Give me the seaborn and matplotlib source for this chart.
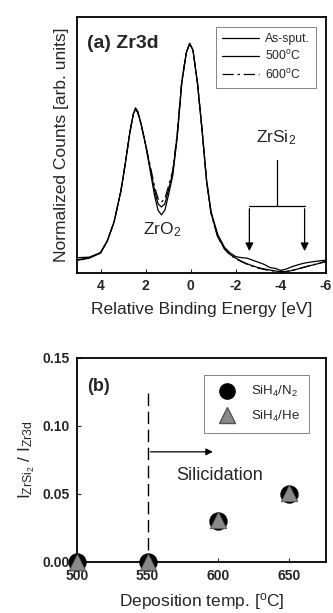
import matplotlib
matplotlib.use("Agg")
import matplotlib.pyplot as plt
import pandas as pd
import seaborn as sns
from matplotlib.lines import Line2D

# (a) Zr3d spectra
energy = [5.0, 4.5, 4.0, 3.7, 3.4, 3.1, 2.9, 2.7, 2.55, 2.45, 2.35, 2.2, 2.0, 1.8,
          1.6, 1.45, 1.3, 1.15, 1.0, 0.8, 0.6, 0.4, 0.2, 0.05, -0.1, -0.3, -0.5,
          -0.7, -0.9, -1.2, -1.5, -1.75, -2.0, -2.25, -2.5, -2.75, -3.0, -3.25,
          -3.5, -3.75, -4.0, -4.25, -4.5, -4.75, -5.0, -5.25, -5.5, -5.75, -6.0]
as_sput = [0.050, 0.058, 0.078, 0.125, 0.20, 0.32, 0.43, 0.55, 0.62, 0.643, 0.63,
           0.58, 0.50, 0.40, 0.30, 0.245, 0.227, 0.245, 0.30, 0.38, 0.53, 0.74,
           0.86, 0.897, 0.87, 0.74, 0.56, 0.36, 0.234, 0.14, 0.095, 0.072, 0.058,
           0.046, 0.036, 0.028, 0.021, 0.016, 0.012, 0.008, 0.005, 0.006, 0.010,
           0.016, 0.022, 0.028, 0.033, 0.039, 0.044]
t500 = [0.060, 0.062, 0.080, 0.127, 0.20, 0.32, 0.43, 0.55, 0.62, 0.645, 0.63,
        0.58, 0.50, 0.41, 0.32, 0.27, 0.258, 0.27, 0.32, 0.39, 0.54, 0.745,
        0.86, 0.897, 0.87, 0.74, 0.56, 0.365, 0.24, 0.15, 0.10, 0.078, 0.064,
        0.060, 0.058, 0.050, 0.042, 0.034, 0.022, 0.018, 0.010, 0.016, 0.025,
        0.032, 0.038, 0.042, 0.045, 0.048, 0.050]
t600 = [0.052, 0.060, 0.079, 0.126, 0.20, 0.32, 0.43, 0.55, 0.62, 0.640, 0.625,
        0.58, 0.50, 0.42, 0.335, 0.29, 0.277, 0.29, 0.335, 0.40, 0.545, 0.75,
        0.86, 0.895, 0.87, 0.74, 0.56, 0.36, 0.232, 0.14, 0.093, 0.070, 0.056,
        0.044, 0.034, 0.026, 0.019, 0.014, 0.010, 0.007, 0.004, 0.006, 0.010,
        0.016, 0.022, 0.028, 0.034, 0.040, 0.046]
spec_labels = ["As-sput.", "500$^\\mathrm{o}$C", "600$^\\mathrm{o}$C"]

# (b) silicide ratio vs deposition temperature
dep_temp = [500, 550, 600, 650]
ratio_n2 = [0.0, 0.0, 0.030, 0.050]
ratio_he = [0.0, 0.0, 0.031, 0.051]

sns.set_style("ticks")
plt.rcParams["font.family"] = ["Liberation Sans", "DejaVu Sans"]
plt.rcParams["mathtext.fontset"] = "custom"
plt.rcParams["mathtext.rm"] = "Liberation Sans"
plt.rcParams["mathtext.it"] = "Liberation Sans:italic"
plt.rcParams["mathtext.bf"] = "Liberation Sans:bold"

fig = plt.figure(figsize=(3.33, 6.13), dpi=100)
ax1 = fig.add_axes([0.231, 0.5546, 0.748, 0.4177])
ax2 = fig.add_axes([0.231, 0.0832, 0.748, 0.3328])

# ---- top panel
styles = [dict(lw=0.9), dict(lw=0.9), dict(lw=0.9, dashes=(9, 3, 2, 3))]
for lab, ys, st in zip(spec_labels, [as_sput, t500, t600], styles):
    df = pd.DataFrame({"E": energy, "I": ys})
    sns.lineplot(data=df, x="E", y="I", sort=False, color="k", ax=ax1,
                 label=lab, **st)
ax1.set_xlim(5.05, -6.0)
ax1.set_ylim(0, 1.0)
ax1.set_yticks([])
ax1.set_xticks([4, 2, 0, -2, -4, -6])
ax1.set_xticklabels(["4", "2", "0", "-2", "-4", "-6"], fontsize=10, fontweight="bold")
ax1.tick_params(axis="x", direction="in", length=3, width=0.8, pad=4)
ax1.set_xlabel("Relative Binding Energy [eV]", fontsize=12.5, labelpad=7)
ax1.set_ylabel("Normalized Counts [arb. units]", fontsize=12.5, labelpad=6)
for s in ax1.spines.values():
    s.set_linewidth(1.3)
    s.set_color("k")
ax1.text(0.04, 0.88, "(a) Zr3d", transform=ax1.transAxes, fontsize=14,
         fontweight="bold")
ax1.text(1.25, 0.15, "ZrO$_2$", fontsize=12.5, ha="center")
ax1.text(-3.78, 0.51, "ZrSi$_2$", fontsize=12.5, ha="center")
ax1.plot([-3.83, -3.83], [0.44, 0.26], color="k", lw=0.9)
ax1.plot([-2.6, -5.05], [0.26, 0.26], color="k", lw=0.9)
for xe in [-2.6, -5.05]:
    ax1.annotate("", xy=(xe, 0.075), xytext=(xe, 0.262),
                 arrowprops=dict(arrowstyle="-|>", color="k", lw=0.9,
                                 mutation_scale=12))
leg = ax1.legend(loc="upper right", fontsize=8.8, frameon=True, fancybox=False,
                 handlelength=3.0, borderaxespad=0.8, labelspacing=0.35,
                 handletextpad=0.5, borderpad=0.5)
leg.get_frame().set_edgecolor("0.3")
leg.get_frame().set_linewidth(0.6)

# ---- bottom panel
pts = pd.DataFrame({"T": dep_temp * 2, "r": ratio_n2 + ratio_he,
                    "gas": ["n2"] * 4 + ["he"] * 4})
sns.scatterplot(data=pts[pts.gas == "n2"], x="T", y="r", marker="o", s=150,
                color="k", edgecolor="k", ax=ax2, clip_on=False, zorder=3,
                legend=False)
sns.scatterplot(data=pts[pts.gas == "he"], x="T", y="r", marker="^", s=140,
                color="#8a8a8a", edgecolor="#555555", linewidth=0.6, ax=ax2,
                clip_on=False, zorder=4, legend=False)
ax2.set_xlim(500, 676)
ax2.set_ylim(0, 0.15)
ax2.set_xticks([500, 550, 600, 650])
ax2.set_xticklabels(["500", "550", "600", "650"], fontsize=10, fontweight="bold")
ax2.set_yticks([0.0, 0.05, 0.10, 0.15])
ax2.set_yticklabels(["0.00", "0.05", "0.10", "0.15"], fontsize=10, fontweight="bold")
ax2.tick_params(direction="in", length=3, width=0.8, pad=5)
for s in ax2.spines.values():
    s.set_linewidth(1.3)
    s.set_color("k")
ax2.set_xlabel("Deposition temp. [$^\\mathrm{o}$C]", fontsize=12.5, labelpad=6)
ax2.set_ylabel("$\\mathrm{I_{ZrSi_2}}$ / $\\mathrm{I_{Zr3d}}$", fontsize=12.5,
               labelpad=4)
ax2.text(0.04, 0.84, "(b)", transform=ax2.transAxes, fontsize=13,
         fontweight="bold")
ax2.plot([550, 550], [0.009, 0.126], color="k", lw=1.0, dashes=(9, 4))
ax2.annotate("", xy=(598, 0.081), xytext=(550, 0.081),
             arrowprops=dict(arrowstyle="-|>", color="k", lw=0.9,
                             mutation_scale=10))
ax2.text(601, 0.06, "Silicidation", fontsize=13, ha="center")
handles = [Line2D([], [], marker="o", ls="", color="k", markersize=11),
           Line2D([], [], marker="^", ls="", color="#8a8a8a",
                  markeredgecolor="#555555", markersize=11)]
leg2 = ax2.legend(handles, ["SiH$_4$/N$_2$", "SiH$_4$/He"], loc="upper right",
                  fontsize=9.5, frameon=True, fancybox=False, borderaxespad=1.3,
                  handletextpad=0.8, labelspacing=0.7, borderpad=0.7)
leg2.get_frame().set_edgecolor("0.3")
leg2.get_frame().set_linewidth(0.6)

fig.savefig("out.png", dpi=100)
